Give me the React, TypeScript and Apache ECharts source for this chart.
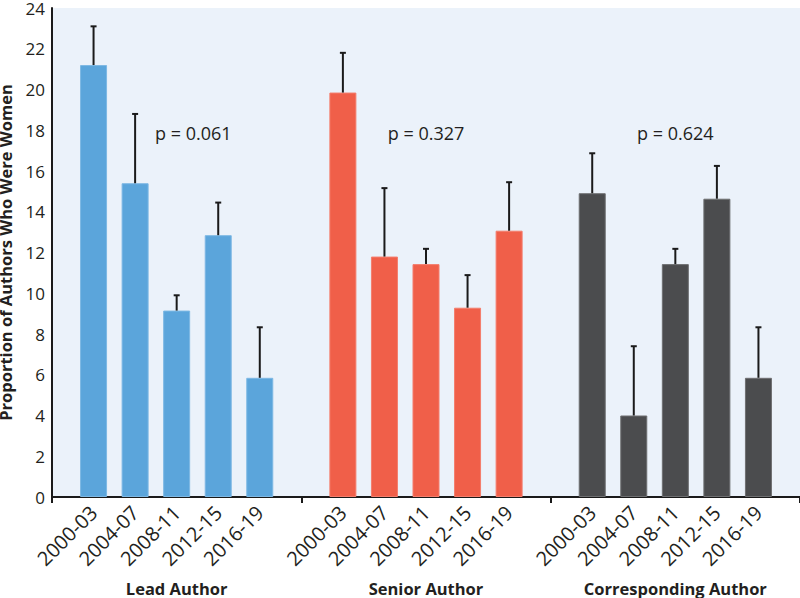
import React, { useEffect, useRef } from "react";
import * as echarts from "echarts";

const periods = ["2000-03", "2004-07", "2008-11", "2012-15", "2016-19"];
const groups = ["Lead Author", "Senior Author", "Corresponding Author"];
const pValues = ["p = 0.061", "p = 0.327", "p = 0.624"];
const leadValues = [21.2, 15.4, 9.15, 12.85, 5.85];
const leadUpper = [23.1, 18.8, 9.9, 14.45, 8.33];
const seniorValues = [19.85, 11.8, 11.43, 9.29, 13.07];
const seniorUpper = [21.8, 15.16, 12.18, 10.89, 15.45];
const corrValues = [14.91, 4.0, 11.43, 14.64, 5.85];
const corrUpper = [16.87, 7.4, 12.18, 16.25, 8.33];
const yTicks = { min: 0, max: 24, interval: 2 };
const pLabelY = 17.85;

const FONT = "'Open Sans', 'Noto Sans', sans-serif";
const colors = ["#5BA5DB", "#F05F49", "#4B4C4E"];
const borders = ["#7DB8E4", "#F47D6C", "#6E6F71"];

export default function App() {
  const ref = useRef<HTMLDivElement>(null);
  useEffect(() => {
    document.body.style.margin = "0";
    if (!ref.current) return;
    const chart = echarts.init(ref.current, undefined, { renderer: "svg" });

    const cats: string[] = [];
    const labelOf: string[] = [];
    for (let g = 0; g < 3; g++) {
      cats.push("b" + g);
      labelOf.push("");
      periods.forEach((p) => {
        cats.push(g + "|" + p);
        labelOf.push(p);
      });
    }
    cats.push("b3");
    labelOf.push("");

    const allValues = [leadValues, seniorValues, corrValues];
    const allUpper = [leadUpper, seniorUpper, corrUpper];

    const barSeries = allValues.map((vals, g) => {
      const data: any[] = cats.map(() => "-");
      vals.forEach((v, i) => {
        data[g * 6 + 1 + i] = v;
      });
      return {
        type: "bar",
        name: groups[g],
        data,
        barWidth: 27,
        barGap: "-100%",
        itemStyle: { color: colors[g], borderColor: borders[g], borderWidth: 1 },
        z: 2,
      };
    });

    const errData: number[][] = [];
    allValues.forEach((vals, g) => {
      vals.forEach((v, i) => {
        errData.push([g * 6 + 1 + i, v, allUpper[g][i]]);
      });
    });

    const errSeries = {
      type: "custom",
      data: errData,
      z: 3,
      renderItem: (params: any, api: any) => {
        const x = api.value(0);
        const lo = api.coord([x, api.value(1)]);
        const hi = api.coord([x, api.value(2)]);
        const style = { stroke: "#1A1A1A", lineWidth: 2 };
        return {
          type: "group",
          children: [
            { type: "line", shape: { x1: lo[0], y1: lo[1], x2: hi[0], y2: hi[1] }, style },
            { type: "line", shape: { x1: hi[0] - 3, y1: hi[1], x2: hi[0] + 3, y2: hi[1] }, style },
          ],
        };
      },
    };

    const option: any = {
      animation: false,
      grid: {
        left: 52,
        right: 0,
        top: 8,
        bottom: 101,
        show: true,
        backgroundColor: "#EBF2FA",
        borderWidth: 0,
        containLabel: false,
        outerBoundsMode: "none",
      },
      xAxis: {
        type: "category",
        data: cats,
        boundaryGap: false,
        axisLine: { show: true, lineStyle: { color: "#1A1A1A", width: 2 } },
        axisTick: {
          show: true,
          length: 6,
          interval: (i: number) => i % 6 === 0,
          lineStyle: { color: "#1A1A1A", width: 2 },
        },
        axisLabel: {
          interval: (i: number) => i % 6 !== 0,
          rotate: 45,
          margin: 12,
          fontSize: 20,
          fontFamily: FONT,
          color: "#231F20",
          formatter: (_v: string, i: number) => labelOf[i],
        },
        splitLine: { show: false },
      },
      yAxis: {
        type: "value",
        min: yTicks.min,
        max: yTicks.max,
        interval: yTicks.interval,
        name: "Proportion of Authors Who Were Women",
        nameLocation: "middle",
        nameGap: 32,
        nameTextStyle: { fontSize: 16.5, fontWeight: "bold", fontFamily: FONT, color: "#231F20", lineHeight: 18 },
        axisLine: { show: true, lineStyle: { color: "#1A1A1A", width: 2 } },
        axisTick: { show: false },
        axisLabel: { fontSize: 17, fontFamily: FONT, color: "#231F20", margin: 7 },
        splitLine: { show: false },
      },
      series: [...barSeries, errSeries],
    };
    chart.setOption(option);

    const graphics: any[] = [];
    const pOffset = [0.4, 0, 0];
    const pIdx = [3, 9, 15];
    const p0 = chart.convertToPixel({ gridIndex: 0 }, [0, 0]);
    const p1 = chart.convertToPixel({ gridIndex: 0 }, [1, 0]);
    const step = p1[0] - p0[0];
    pValues.forEach((t, g) => {
      const pt = chart.convertToPixel({ gridIndex: 0 }, [pIdx[g], pLabelY]);
      graphics.push({
        type: "text",
        x: pt[0] + pOffset[g] * step,
        y: pt[1],
        style: {
          text: t,
          fontSize: 18,
          fontFamily: FONT,
          fill: "#231F20",
          textAlign: "center",
          textVerticalAlign: "middle",
        },
      });
    });
    groups.forEach((t, g) => {
      const pt = chart.convertToPixel({ gridIndex: 0 }, [g * 6 + 3, 0]);
      graphics.push({
        type: "text",
        x: pt[0],
        y: 588,
        style: {
          text: t,
          fontSize: 16.5,
          fontWeight: "bold",
          fontFamily: FONT,
          fill: "#231F20",
          textAlign: "center",
          textVerticalAlign: "middle",
        },
      });
    });
    chart.setOption({ graphic: graphics });

    return () => chart.dispose();
  }, []);
  return <div ref={ref} style={{ width: 800, height: 598 }} />;
}
